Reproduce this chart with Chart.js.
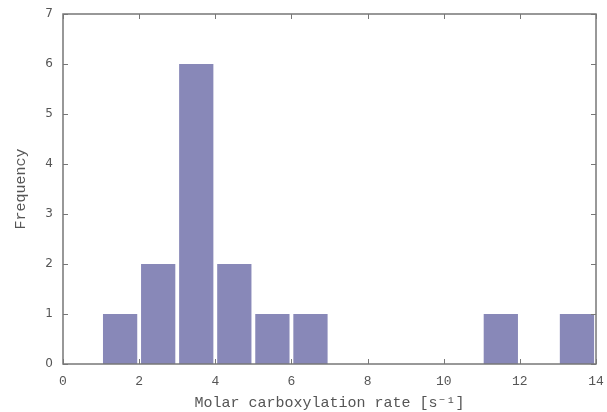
<!DOCTYPE html>
<html>
<head>
<meta charset="utf-8">
<script src="https://cdn.jsdelivr.net/npm/chart.js@4"></script>
<style>
  html, body { margin: 0; padding: 0; background: #fff; }
  #wrap { width: 607px; height: 412px; }
</style>
</head>
<body>
<div id="wrap"><canvas id="myChart" width="607" height="412"></canvas></div>
<script>
// histogram bins (lower edge .. lower edge + 1) and counts
const binStarts = [1, 2, 3, 4, 5, 6, 7, 8, 9, 10, 11, 12, 13];
const counts    = [1, 2, 6, 2, 1, 1, 0, 0, 0, 0, 1, 0, 1];
const xTicks = [0, 2, 4, 6, 8, 10, 12, 14];
const yTicks = [0, 1, 2, 3, 4, 5, 6, 7];
const xTitle = 'Molar carboxylation rate [s⁻¹]';
const yTitle = 'Frequency';

const axisColor = '#777';
const barColor = '#8888b8';
const mono = "'Liberation Mono', 'DejaVu Sans Mono', monospace";

// frame + inward ticks on all four sides, like gnuplot
const frameTicks = {
  id: 'frameTicks',
  afterDraw(chart) {
    const { ctx, chartArea: a, scales: { x, y } } = chart;
    ctx.save();
    ctx.strokeStyle = axisColor;
    ctx.lineWidth = 1.5;
    ctx.strokeRect(a.left, a.top, a.right - a.left, a.bottom - a.top);
    ctx.lineWidth = 1;
    const len = 5;
    xTicks.forEach(v => {
      const px = Math.round(x.getPixelForValue(v)) + 0.5;
      ctx.beginPath();
      ctx.moveTo(px, a.bottom); ctx.lineTo(px, a.bottom - len);
      ctx.moveTo(px, a.top); ctx.lineTo(px, a.top + len);
      ctx.stroke();
    });
    yTicks.forEach(v => {
      const py = Math.round(y.getPixelForValue(v)) + 0.5;
      ctx.beginPath();
      ctx.moveTo(a.left, py); ctx.lineTo(a.left + len, py);
      ctx.moveTo(a.right, py); ctx.lineTo(a.right - len, py);
      ctx.stroke();
    });
    ctx.restore();
  }
};

const ctx = document.getElementById('myChart').getContext('2d');
const myChart = new Chart(ctx, {
  type: 'bar',
  data: {
    datasets: [{
      label: yTitle,
      data: binStarts.map((b, i) => ({ x: b + 0.5, y: counts[i] })),
      backgroundColor: barColor,
      borderWidth: 0,
      barPercentage: 0.9,
      categoryPercentage: 1.0
    }]
  },
  plugins: [frameTicks],
  options: {
    responsive: false,
    animation: false,
    layout: { padding: { top: 14, right: 11, left: 0, bottom: 0 } },
    plugins: {
      legend: { display: false },
      tooltip: { enabled: false }
    },
    scales: {
      x: {
        type: 'linear',
        min: 0,
        max: 14,
        offset: false,
        grid: { display: false, drawTicks: false },
        border: { display: false },
        afterBuildTicks: s => { s.ticks = xTicks.map(v => ({ value: v })); },
        afterFit: s => { s.height = 48; s.paddingLeft = 0; s.paddingRight = 0; },
        ticks: {
          color: '#555',
          font: { family: mono, size: 13 },
          padding: 10,
          maxRotation: 0
        },
        title: {
          display: true,
          text: xTitle,
          color: '#555',
          font: { family: mono, size: 15 },
          padding: { top: 5, bottom: 0 }
        }
      },
      y: {
        min: 0,
        max: 7,
        grid: { display: false, drawTicks: false },
        border: { display: false },
        afterBuildTicks: s => { s.ticks = yTicks.map(v => ({ value: v })); },
        afterFit: s => { s.width = 63; s.paddingTop = 0; s.paddingBottom = 0; },
        ticks: {
          color: '#555',
          font: { family: "'DejaVu Sans', sans-serif", size: 12 },
          padding: 10
        },
        title: {
          display: true,
          text: yTitle,
          color: '#555',
          font: { family: mono, size: 15 },
          padding: { top: 12, bottom: 4 }
        }
      }
    }
  }
});
</script>
</body>
</html>
